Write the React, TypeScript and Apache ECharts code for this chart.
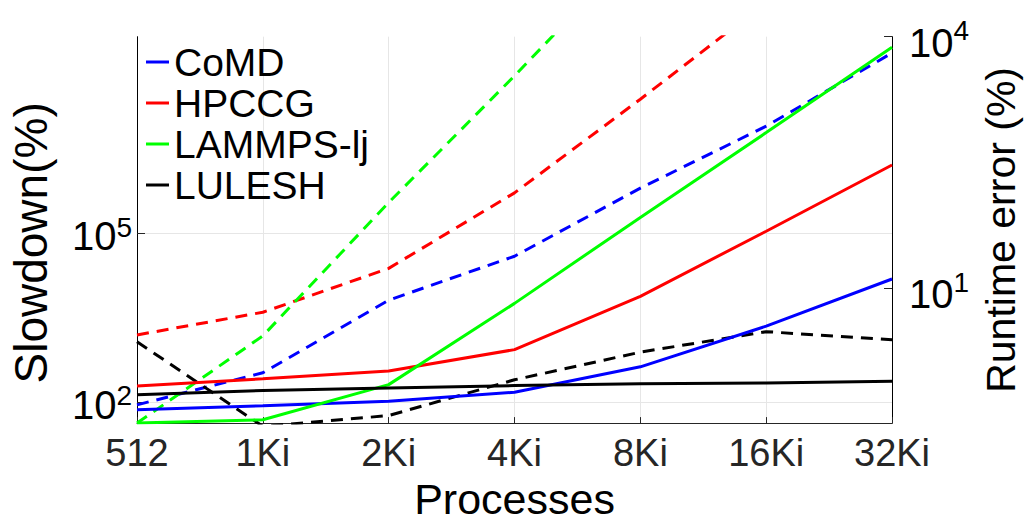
import React, { useEffect, useRef } from "react";
import * as echarts from "echarts";

// Categories (number of processes)
const categories = ["512", "1Ki", "2Ki", "4Ki", "8Ki", "16Ki", "32Ki"];

// Slowdown (%), left axis, solid lines
const slowdownCoMD = [72.6, 85.3, 103, 149, 421, 2220, 15300];
const slowdownHPCCG = [192, 258, 354, 851, 7530, 108000, 1620000];
const slowdownLAMMPS = [42.1, 48.2, 203, 5640, 190000, 6110000, 200000000];
const slowdownLULESH = [134, 160, 177, 195, 211, 218, 234];

// Runtime error (%), right axis, dashed lines
const errorCoMD = [0.404, 0.977, 7.18, 24, 156, 855, 6400];
const errorHPCCG = [2.76, 5.15, 17.2, 137, 1795, 25700, 316000];
const errorLAMMPS = [0.245, 2.69, 105, 3410, 126000, 4000000, 100000000];
const errorLULESH = [2.29, 0.224, 0.301, 0.805, 1.72, 3.02, 2.42];

// Axis ranges / ticks as powers of ten (exponents)
const leftRange = [1.624, 8.49];
const rightRange = [-0.611, 4];
const leftTickExps = [2, 5];
const rightTickExps = [1, 4];

const names = ["CoMD", "HPCCG", "LAMMPS-lj", "LULESH"];
const colors = ["#0000ff", "#ff0000", "#00ff00", "#000000"];

const FONT = "'Liberation Sans', Arial, Helvetica, sans-serif";

export default function App() {
  const ref = useRef<HTMLDivElement>(null);

  useEffect(() => {
    document.body.style.margin = "0";
    const chart = echarts.init(ref.current!, undefined, { renderer: "svg" });
    const log = (arr: number[]) => arr.map((v) => Math.log10(v));
    const slow = [slowdownCoMD, slowdownHPCCG, slowdownLAMMPS, slowdownLULESH];
    const err = [errorCoMD, errorHPCCG, errorLAMMPS, errorLULESH];

    const makeRich = (shift: number) => ({
      b: { fontSize: 40, color: "#000", fontFamily: FONT, padding: [shift, 0, 0, 0], lineHeight: 40 },
      e: { fontSize: 28, color: "#000", fontFamily: FONT, verticalAlign: "top", lineHeight: 28 },
    });
    const powFmt = (v: number) => `{b|10}{e|${Math.round(v)}}`;

    const series: any[] = [];
    names.forEach((n, i) => {
      series.push({
        name: n,
        type: "line",
        yAxisIndex: 0,
        data: log(slow[i]),
        showSymbol: false,
        symbol: "none",
        lineStyle: { color: colors[i], width: 3, type: "solid" },
        itemStyle: { color: colors[i] },
        z: 3,
      });
    });
    names.forEach((n, i) => {
      series.push({
        name: n + " error",
        type: "line",
        yAxisIndex: 1,
        data: log(err[i]),
        showSymbol: false,
        symbol: "none",
        lineStyle: { color: colors[i], width: 3, type: [12, 8] },
        itemStyle: { color: colors[i] },
        z: 2,
      });
    });

    chart.setOption({
      animation: false,
      textStyle: { fontFamily: FONT },
      grid: { left: 133.5, right: 130, top: 36.7, bottom: 92.3, containLabel: false },
      legend: {
        data: names,
        orient: "vertical",
        left: 146,
        top: 42,
        icon: "rect",
        itemWidth: 23,
        itemHeight: 3,
        itemGap: 1,
        padding: 0,
        textStyle: { fontSize: 39, color: "#000", fontFamily: FONT, lineHeight: 40 },
      },
      xAxis: {
        type: "category",
        data: categories,
        boundaryGap: false,
        axisLine: { show: true, onZero: false, lineStyle: { color: "#262626", width: 1 } },
        axisTick: { show: true, inside: true, length: 6, lineStyle: { color: "#262626" } },
        axisLabel: { fontSize: 38, color: "#262626", margin: 11, fontFamily: FONT },
        splitLine: { show: true, lineStyle: { color: "#e6e6e6", width: 1 } },
        name: "Processes",
        nameLocation: "middle",
        nameGap: 50,
        nameTextStyle: { fontSize: 43, color: "#000", fontFamily: FONT },
      },
      yAxis: [
        {
          type: "value",
          position: "left",
          min: leftRange[0],
          max: leftRange[1],
          axisLine: { show: true, onZero: false, lineStyle: { color: "#000", width: 1 } },
          axisTick: {
            show: true,
            inside: true,
            length: 8,
            customValues: leftTickExps,
            lineStyle: { color: "#262626" },
          },
          axisLabel: {
            customValues: leftTickExps,
            formatter: powFmt,
            rich: makeRich(6),
            margin: 5,
          },
          splitLine: { show: true, lineStyle: { color: "#e6e6e6", width: 1 } },
          name: "Slowdown(%)",
          nameLocation: "middle",
          nameRotate: 90,
          nameGap: 83,
          nameTextStyle: { fontSize: 46, color: "#000", fontFamily: FONT, padding: [0, 26, 0, 0] },
        },
        {
          type: "value",
          position: "right",
          min: rightRange[0],
          max: rightRange[1],
          axisLine: { show: true, onZero: false, lineStyle: { color: "#000", width: 1 } },
          axisTick: {
            show: true,
            inside: true,
            length: 8,
            customValues: rightTickExps,
            lineStyle: { color: "#262626" },
          },
          axisLabel: {
            customValues: rightTickExps,
            formatter: powFmt,
            rich: makeRich(12),
            margin: 17,
          },
          splitLine: { show: false },
          name: "Runtime error (%)",
          nameLocation: "middle",
          nameRotate: 90,
          nameGap: 83,
          nameTextStyle: { fontSize: 41, color: "#000", fontFamily: FONT },
        },
      ],
      series,
    });

    return () => chart.dispose();
  }, []);

  return <div ref={ref} style={{ width: 1029, height: 525 }} />;
}
